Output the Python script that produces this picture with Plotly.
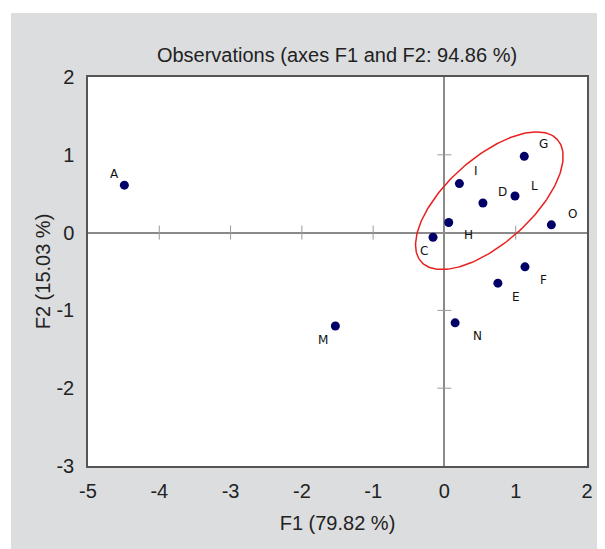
import numpy as np
import plotly.graph_objects as go

# ---- data ----
names = ["A", "M", "N", "E", "F", "O", "G", "L", "D", "I", "H", "C"]
f1 = [-4.49, -1.53, 0.15, 0.75, 1.13, 1.50, 1.12, 0.99, 0.54, 0.21, 0.06, -0.16]
f2 = [0.61, -1.20, -1.16, -0.65, -0.44, 0.10, 0.98, 0.47, 0.38, 0.63, 0.13, -0.06]
# label offsets in pixels (dx right, dy up)
label_dx = [-10, -12, 22, 18, 19, 21, 19, 19, 20, 17, 20, -9]
label_dy = [11, -14, -13, -14, -13, 11, 12, 10, 11, 13, -13, -14]

x_ticks = [-5, -4, -3, -2, -1, 0, 1, 2]
x_tick_text = ["-5", "-4", "-3", "-2", "-1", "0", "1", "2"]
y_ticks = [-3, -2, -1, 0, 1, 2]
y_tick_text = ["-3", "-2", "-1", "0", "1", "2"]
x_cross = [-4, -3, -2, -1, 1]
y_cross = [-2, -1, 1]

title = "Observations (axes F1 and F2: 94.86 %)"
x_title = "F1 (79.82 %)"
y_title = "F2 (15.03 %)"

# ellipse (centre in data units, semi-axes in pixels, angle in degrees)
ell_cx, ell_cy = 0.63, 0.41
ell_a, ell_b, ell_ang = 91.5, 42.5, 41.9

OFF = 8  # page body margin
W, H = 605, 549
ML, MR, MT, MB = 80, 26, 69, 91
xr, yr = [-5, 2], [-3, 2]
sx = (W - ML - MR) / (xr[1] - xr[0])
sy = (H - MT - MB) / (yr[1] - yr[0])

FONT = "Liberation Sans, Arial, sans-serif"
TXT = "#222222"

fig = go.Figure()

# tick crosses on the zero lines
fig.add_trace(go.Scatter(x=x_cross, y=[0] * len(x_cross), mode="markers",
                         marker=dict(symbol="line-ns", size=10, line=dict(color="#9a9a9a", width=1)),
                         hoverinfo="skip", showlegend=False))
fig.add_trace(go.Scatter(x=[0] * len(y_cross), y=y_cross, mode="markers",
                         marker=dict(symbol="line-ew", size=10, line=dict(color="#9a9a9a", width=1)),
                         hoverinfo="skip", showlegend=False))

# ellipse
t = np.linspace(0, 2 * np.pi, 200)
th = np.radians(ell_ang)
ex = ell_cx + (ell_a * np.cos(t) * np.cos(th) - ell_b * np.sin(t) * np.sin(th)) / sx
ey = ell_cy + (ell_a * np.cos(t) * np.sin(th) + ell_b * np.sin(t) * np.cos(th)) / sy
fig.add_trace(go.Scatter(x=ex, y=ey, mode="lines", line=dict(color="#e8201f", width=1.5),
                         hoverinfo="skip", showlegend=False))

# observations
fig.add_trace(go.Scatter(x=f1, y=f2, mode="markers", text=names,
                         marker=dict(color="#000066", size=9),
                         showlegend=False))

for n, x, y, dx, dy in zip(names, f1, f2, label_dx, label_dy):
    fig.add_annotation(x=x, y=y, text=n, showarrow=False, xshift=dx, yshift=dy,
                       font=dict(family="DejaVu Sans, Verdana, sans-serif", size=12, color="#111111"))

PW, PH = W - ML - MR, H - MT - MB
# white strips (page outside the grey panel)
fig.add_shape(type="rect", xref="paper", yref="paper",
              x0=-ML / PW - 0.05, x1=(11 - OFF - ML) / PW,
              y0=-MB / PH - 0.05, y1=1 + MT / PH + 0.05,
              fillcolor="white", line=dict(width=0), layer="below")
fig.add_shape(type="rect", xref="paper", yref="paper",
              x0=-ML / PW - 0.05, x1=1 + MR / PW + 0.05,
              y0=1 + (MT - (13 - OFF)) / PH, y1=1 + MT / PH + 0.05,
              fillcolor="white", line=dict(width=0), layer="below")

axis_common = dict(showgrid=False, zeroline=True, zerolinecolor="#8a8a8a", zerolinewidth=1.5,
                   showline=True, mirror=True, linecolor="#555555", linewidth=1.5,
                   ticks="", tickfont=dict(family=FONT, size=20, color=TXT))

fig.update_layout(
    width=W, height=H,
    margin=dict(l=ML, r=MR, t=MT, b=MB, pad=0),
    paper_bgcolor="#dcdddf", plot_bgcolor="white",
    font=dict(family=FONT, size=20, color=TXT),
    title=dict(text=title, x=(337 - OFF) / W, xanchor="center", y=1 - (55 - OFF) / H, yanchor="middle",
               font=dict(family=FONT, size=20, color=TXT)),
    xaxis=dict(range=xr, tickvals=x_ticks, ticktext=x_tick_text, ticklabelstandoff=6,
               title=dict(text=x_title, standoff=15, font=dict(family=FONT, size=20, color=TXT)),
               **axis_common),
    yaxis=dict(range=yr, tickvals=y_ticks, ticktext=y_tick_text, ticklabelstandoff=8,
               title=dict(text=y_title, standoff=0, font=dict(family=FONT, size=20, color=TXT)),
               **axis_common),
)

fig.write_html("out.html")
